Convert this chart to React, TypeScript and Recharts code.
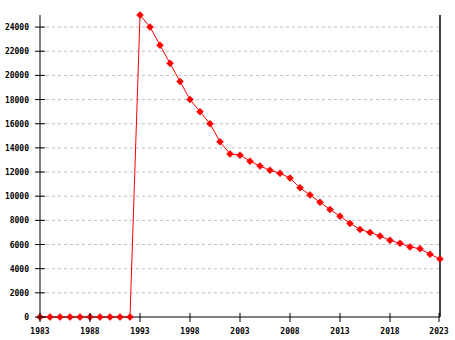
import React from "react";
import { CartesianGrid, Line, LineChart, ReferenceLine, XAxis, YAxis } from "recharts";

const years = [
  1983, 1984, 1985, 1986, 1987, 1988, 1989, 1990, 1991, 1992,
  1993, 1994, 1995, 1996, 1997, 1998, 1999, 2000, 2001, 2002,
  2003, 2004, 2005, 2006, 2007, 2008, 2009, 2010, 2011, 2012,
  2013, 2014, 2015, 2016, 2017, 2018, 2019, 2020, 2021, 2022, 2023,
];
const population = [
  0, 0, 0, 0, 0, 0, 0, 0, 0, 0,
  25000, 24000, 22500, 21000, 19500, 18000, 17000, 16000, 14500, 13500,
  13400, 12900, 12500, 12150, 11900, 11500, 10700, 10100, 9500, 8900,
  8350, 7750, 7250, 7000, 6700, 6350, 6100, 5800, 5650, 5200, 4800,
];
const xTicks = [1983, 1988, 1993, 1998, 2003, 2008, 2013, 2018, 2023];
const yTicks = [0, 2000, 4000, 6000, 8000, 10000, 12000, 14000, 16000, 18000, 20000, 22000, 24000];
const gridValues = yTicks.slice(1);

const data = years.map((year, i) => ({ year, value: population[i] }));

const labelFont = {
  fontFamily: "'DejaVu Sans Mono', monospace",
  fontSize: 8,
  fontWeight: "bold" as const,
  fill: "#000",
};

function XTick({ x, y, payload }: any) {
  return (
    <g>
      <line x1={x} x2={x} y1={y - 4} y2={y + 5} stroke="#000" />
      <text x={x} y={y + 17} textAnchor="middle" {...labelFont}>
        {payload.value}
      </text>
    </g>
  );
}

function YTick({ x, y, payload }: any) {
  return (
    <g>
      <line x1={x - 5} x2={x + 5} y1={y} y2={y} stroke="#000" />
      <text x={x - 11} y={y + 3} textAnchor="end" {...labelFont}>
        {payload.value}
      </text>
    </g>
  );
}

function Diamond({ cx, cy }: any) {
  if (cx == null || cy == null) return null;
  const r = 3.5;
  return (
    <polygon
      points={`${cx},${cy - r} ${cx + r},${cy} ${cx},${cy + r} ${cx - r},${cy}`}
      fill="#ff0000"
      stroke="#ff0000"
      strokeWidth={0.5}
    />
  );
}

export default function App() {
  return (
    <div style={{ position: "absolute", left: 0, top: 0, background: "#fff" }}>
      <LineChart width={455} height={340} data={data} margin={{ top: 15, right: 15, left: 0, bottom: 0 }}>
        <CartesianGrid
          horizontal
          vertical={false}
          horizontalValues={gridValues}
          stroke="#c0c0c0"
          strokeDasharray="3 3"
        />
        <XAxis
          dataKey="year"
          type="number"
          domain={[1983, 2023]}
          ticks={xTicks}
          height={23}
          tickSize={0}
          tickMargin={0}
          tickLine={false}
          axisLine={{ stroke: "#000" }}
          tick={<XTick />}
        />
        <YAxis
          type="number"
          domain={[0, 25000]}
          ticks={yTicks}
          width={40}
          tickSize={0}
          tickMargin={0}
          tickLine={false}
          axisLine={{ stroke: "#000" }}
          tick={<YTick />}
        />
        <ReferenceLine x={2023} stroke="#000" strokeWidth={1.5} />
        <Line
          type="linear"
          dataKey="value"
          stroke="#ff0000"
          strokeWidth={1}
          dot={<Diamond />}
          activeDot={false}
          isAnimationActive={false}
        />
      </LineChart>
    </div>
  );
}
